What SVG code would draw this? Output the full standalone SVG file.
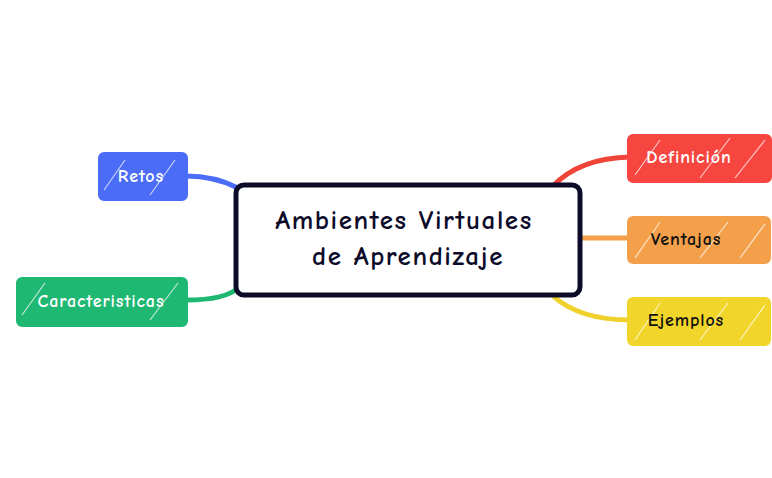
<svg xmlns="http://www.w3.org/2000/svg" width="772" height="478" viewBox="0 0 772 478">
<style>
.conn{fill:none;stroke-width:5;stroke-linecap:round}
.n{stroke-width:2;stroke-linejoin:round}
.t{font-family:"Comic Neue","Lato","Liberation Sans",sans-serif;font-size:18px;letter-spacing:0.9px;font-weight:bold;text-anchor:middle;dominant-baseline:central}
.big{font-size:27px;letter-spacing:1.6px}
.h{fill:none;stroke:#fff;stroke-width:1.2;opacity:.7}
</style>
<rect width="772" height="478" fill="#fff"/>
<g id="connectors">
<path class="conn" stroke="#f04438" d="M553 186 Q580 158 630 157"/>
<path class="conn" stroke="#f4a04a" d="M582 238 L630 238"/>
<path class="conn" stroke="#f0d02a" d="M553 296 Q580 320 630 320"/>
<path class="conn" stroke="#4a6cf7" d="M186 176 Q215 176 238 188"/>
<path class="conn" stroke="#1fb873" d="M186 300 Q225 300 238 288"/>
</g>
<g id="center">
<rect x="236" y="185" width="344" height="110" rx="8" fill="#fff" stroke="#0c0c2a" stroke-width="5"/>
<text class="t big" x="404" y="220" fill="#0c0c2a">Ambientes Virtuales</text>
<text class="t big" x="408" y="256" fill="#0c0c2a">de Aprendizaje</text>
</g>
<g id="definicion">
<rect class="n" x="628" y="135" width="143" height="47" rx="5" fill="#f74540" stroke="#f74540"/>
<path class="h" d="M635 175 L660 140 M700 178 L730 138 M735 178 L765 140"/>
<text class="t" x="689" y="157" fill="#fff">Definición</text>
</g>
<g id="ventajas">
<rect class="n" x="628" y="217" width="142" height="46" rx="5" fill="#f4a04a" stroke="#f4a04a"/>
<path class="h" d="M635 258 L660 222 M700 258 L728 222 M740 258 L765 224"/>
<text class="t" x="686" y="239" fill="#111">Ventajas</text>
</g>
<g id="ejemplos">
<rect class="n" x="628" y="298" width="142" height="47" rx="5" fill="#f2d52a" stroke="#f2d52a"/>
<path class="h" d="M635 340 L660 303 M700 340 L728 303 M740 340 L765 305"/>
<text class="t" x="686" y="320" fill="#111">Ejemplos</text>
</g>
<g id="retos">
<rect class="n" x="99" y="153" width="88" height="47" rx="5" fill="#4a6cf7" stroke="#4a6cf7"/>
<path class="h" d="M104 190 L125 160 M150 195 L175 160"/>
<text class="t" x="141" y="176" fill="#fff">Retos</text>
</g>
<g id="caracteristicas">
<rect class="n" x="17" y="278" width="170" height="48" rx="5" fill="#1fb873" stroke="#1fb873"/>
<path class="h" d="M22 315 L45 283 M150 320 L178 283"/>
<text class="t" x="101" y="301" fill="#fff">Caracteristicas</text>
</g>
</svg>
